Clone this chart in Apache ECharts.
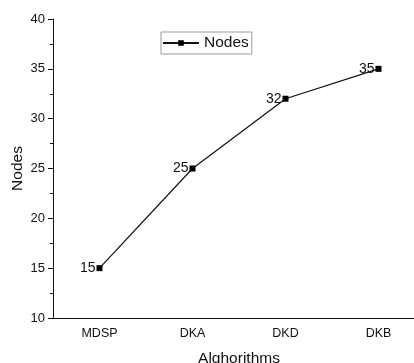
<!DOCTYPE html>
<html>
<head>
<meta charset="utf-8">
<script src="https://cdn.jsdelivr.net/npm/echarts@6/dist/echarts.min.js"></script>
<style>
  html, body { margin: 0; padding: 0; background: #fff; }
  #chart { width: 414px; height: 363px; }
</style>
</head>
<body>
<div id="chart"></div>
<script>
const categories = ["MDSP", "DKA", "DKD", "DKB"];
const nodes = [15, 25, 32, 35];

const font = "Liberation Sans, Arial, sans-serif";

const myChart = echarts.init(document.getElementById("chart"), null, { renderer: "canvas" });

myChart.setOption({
  animation: false,
  textStyle: { fontFamily: font },
  grid: { left: 53, top: 19, width: 372, bottom: 45, containLabel: false, outerBoundsMode: "none" },
  legend: {
    left: 161,
    top: 32,
    data: ["Nodes"],
    itemWidth: 36,
    itemHeight: 7,
    itemGap: 4,
    padding: [3, 3, 3, 1],
    borderColor: "#999",
    borderWidth: 1,
    textStyle: { fontFamily: font, fontSize: 15.5, color: "#111", padding: [0, 0, 0, 0] },
  },
  xAxis: [
    {
      type: "category",
      data: categories,
      name: "Alghorithms",
      nameLocation: "middle",
      nameGap: 33,
      nameTextStyle: { fontFamily: font, fontSize: 15.5, color: "#111", align: "center" },
      axisLine: { lineStyle: { color: "#111", width: 1 } },
      axisTick: { alignWithLabel: true, inside: false, length: 5, lineStyle: { color: "#111" } },
      axisLabel: { fontFamily: font, fontSize: 12.5, color: "#111", margin: 9 },
      splitLine: { show: false },
    },
    {
      type: "category",
      data: categories,
      position: "bottom",
      axisLine: { show: false },
      axisTick: { inside: false, length: 3, lineStyle: { color: "#111" } },
      axisLabel: { show: false },
      splitLine: { show: false },
    },
  ],
  yAxis: {
    type: "value",
    min: 10,
    max: 40,
    interval: 5,
    name: "Nodes",
    nameLocation: "middle",
    nameGap: 27,
    nameMoveOverlap: false,
    nameTextStyle: { fontFamily: font, fontSize: 15.5, color: "#111" },
    axisLine: { show: true, lineStyle: { color: "#111", width: 1 } },
    axisTick: { show: true, length: 5, lineStyle: { color: "#111" } },
    minorTick: { show: true, splitNumber: 2, length: 3, lineStyle: { color: "#111" } },
    axisLabel: { fontFamily: font, fontSize: 13, color: "#111", margin: 8 },
    splitLine: { show: false },
  },
  series: [
    {
      name: "Nodes",
      type: "line",
      data: nodes,
      symbol: "rect",
      symbolSize: 6,
      itemStyle: { color: "#000" },
      lineStyle: { color: "#111", width: 1.2 },
      label: {
        show: true,
        position: "left",
        distance: 1,
        fontFamily: font,
        fontSize: 14,
        color: "#111",
      },
    },
  ],
});
</script>
</body>
</html>
